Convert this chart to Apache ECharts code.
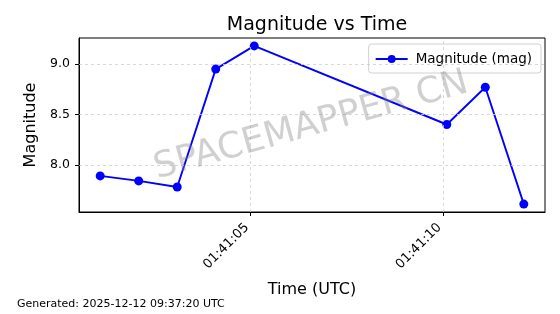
<!DOCTYPE html>
<html>
<head>
<meta charset="utf-8">
<script src="https://cdn.jsdelivr.net/npm/echarts@6/dist/echarts.min.js"></script>
<style>
html,body{margin:0;padding:0;background:#fff;}
#c{width:560px;height:314px;}
</style>
</head>
<body>
<div id="c"></div>
<script>
// Data
var times = ['01:41:01.1','01:41:02.1','01:41:03.1','01:41:04.1','01:41:05.1','01:41:10.1','01:41:11.1','01:41:12.1'];
var magnitudes = [7.89, 7.84, 7.78, 8.95, 9.18, 8.40, 8.77, 7.61];
var xTickLabels = ['01:41:05', '01:41:10'];
var yTicks = [8.0, 8.5, 9.0];
var seriesName = 'Magnitude (mag)';

function toSec(s) {
  var p = s.split(':');
  return (+p[0]) * 3600 + (+p[1]) * 60 + parseFloat(p[2]);
}
function fmt(v) {
  var t = Math.round(v);
  var h = Math.floor(t / 3600), m = Math.floor((t % 3600) / 60), s = t % 60;
  function z(n){ return (n < 10 ? '0' : '') + n; }
  return z(h) + ':' + z(m) + ':' + z(s);
}
var xs = times.map(toSec);
var pts = xs.map(function (x, i) { return [x, magnitudes[i]]; });
var xTickVals = xTickLabels.map(toSec);
var xSpan = xs[xs.length - 1] - xs[0];
var xMin = xs[0] - 0.05 * xSpan, xMax = xs[xs.length - 1] + 0.05 * xSpan;
var yLo = Math.min.apply(null, magnitudes), yHi = Math.max.apply(null, magnitudes);
var yMin = yLo - 0.05 * (yHi - yLo), yMax = yHi + 0.05 * (yHi - yLo);

var font = 'DejaVu Sans';
var gridLine = { color: '#cfcfcf', width: 0.8, type: [3, 3] };
var markData = xTickVals.map(function (v) { return { xAxis: v }; })
  .concat(yTicks.map(function (v) { return { yAxis: v }; }));

var chart = echarts.init(document.getElementById('c'), null, { renderer: 'canvas' });
chart.setOption({
  animation: false,
  textStyle: { fontFamily: font },
  title: {
    text: 'Magnitude vs Time',
    left: 312, top: 11, textAlign: 'center',
    textStyle: { fontFamily: font, fontSize: 19, fontWeight: 'normal', color: '#000' }
  },
  grid: {
    left: 79, right: 15, top: 38, bottom: 102,
    show: true, borderColor: '#000', borderWidth: 1, backgroundColor: 'transparent'
  },
  legend: {
    data: [seriesName],
    right: 19, top: 44,
    padding: [8, 9, 7, 6],
    itemWidth: 32, itemHeight: 10, itemGap: 8,
    borderColor: '#d0d0d0', borderWidth: 1, borderRadius: 3,
    backgroundColor: 'rgba(255,255,255,0.8)',
    textStyle: { fontFamily: font, fontSize: 13.5, color: '#000', padding: [0, 0, 0, 3] }
  },
  xAxis: {
    type: 'value', min: xMin, max: xMax,
    name: 'Time (UTC)', nameLocation: 'middle', nameGap: 70,
    nameTextStyle: { fontFamily: font, fontSize: 16, color: '#000' },
    axisLine: { show: true, onZero: false, lineStyle: { color: '#000', width: 1 } },
    axisTick: { show: true, length: 4, lineStyle: { color: '#000' }, customValues: xTickVals },
    axisLabel: {
      customValues: xTickVals, rotate: 45, margin: 10, padding: [0, 5, 0, 0],
      formatter: function (v) { return fmt(v); },
      fontFamily: font, fontSize: 13, color: '#000'
    },
    splitLine: { show: false }
  },
  yAxis: {
    type: 'value', min: yMin, max: yMax,
    name: 'Magnitude', nameLocation: 'middle', nameGap: 37,
    nameTextStyle: { fontFamily: font, fontSize: 16, color: '#000' },
    axisLine: { show: true, onZero: false, lineStyle: { color: '#000', width: 1 } },
    axisTick: { show: true, length: 4, lineStyle: { color: '#000' }, customValues: yTicks },
    axisLabel: {
      customValues: yTicks, margin: 9,
      formatter: function (v) { return v.toFixed(1); },
      fontFamily: font, fontSize: 12.5, color: '#000'
    },
    splitLine: { show: false }
  },
  graphic: [
    {
      type: 'text', x: 311, y: 126, rotation: 15.5 * Math.PI / 180, z: 10, silent: true,
      style: {
        text: 'SPACEMAPPER CN', fontFamily: font, fontSize: 36,
        fill: 'rgba(128,128,128,0.37)', align: 'center', verticalAlign: 'middle'
      }
    },
    {
      type: 'text', left: 17, top: 299,
      style: { text: 'Generated: 2025-12-12 09:37:20 UTC', fontFamily: font, fontSize: 11, fill: '#000' }
    }
  ],
  series: [
    {
      name: 'grid', type: 'line', data: pts, z: 1, silent: true,
      symbol: 'none', lineStyle: { opacity: 0 },
      markLine: {
        silent: true, symbol: 'none', label: { show: false },
        lineStyle: gridLine, data: markData, animation: false
      }
    },
    {
      name: seriesName, type: 'line', data: pts, z: 3,
      symbol: 'circle', symbolSize: 9,
      itemStyle: { color: '#0000ff' },
      lineStyle: { color: '#0000ff', width: 1.9 }
    }
  ]
});
</script>
</body>
</html>
